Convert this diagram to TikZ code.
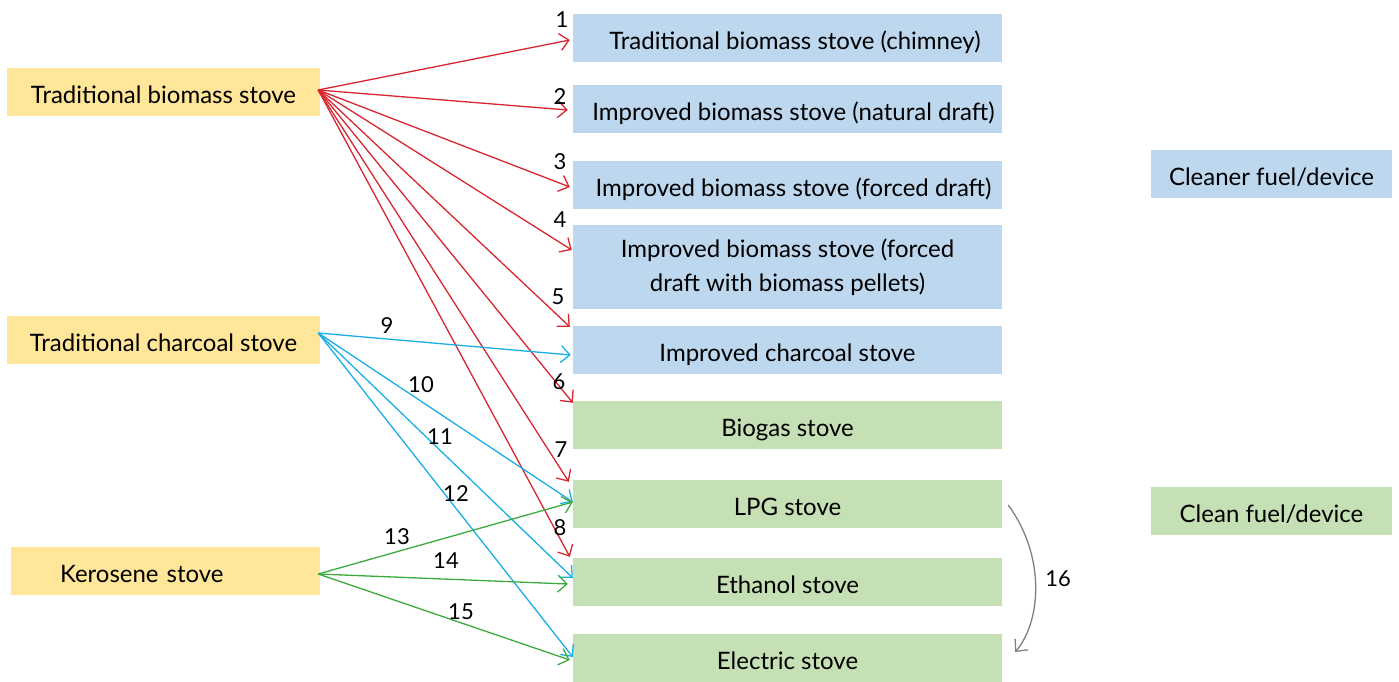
\documentclass[tikz,border=0pt]{standalone}
\usepackage{fontspec}
\setmainfont{Lato}
\usetikzlibrary{arrows.meta,calc}
\definecolor{yfill}{HTML}{FFE699}
\definecolor{bfill}{HTML}{BDD7EE}
\definecolor{gfill}{HTML}{C5E0B4}
\definecolor{ared}{HTML}{D7262F}
\definecolor{ablue}{HTML}{1AAEE6}
\definecolor{agreen}{HTML}{3DAA3D}
\definecolor{agray}{HTML}{808080}
\tikzset{
  base/.style={rectangle, inner sep=0pt, font=\fontsize{24}{34}\selectfont, text=black, minimum height=48pt},
  box/.style={base, text height=23pt, text depth=0pt},
  ybox/.style={box, fill=yfill, minimum width=313pt},
  bbox/.style={box, fill=bfill, minimum width=429pt},
  tallbox/.style={base, fill=bfill, minimum width=429pt, minimum height=84pt, align=center},
  gbox/.style={box, fill=gfill, minimum width=429pt},
  lbox/.style={box, minimum width=241pt},
  num/.style={font=\fontsize{22}{26}\selectfont, inner sep=0pt},
  arr/.style={line width=1.3pt, -{Straight Barb[length=9pt,width=17pt,line width=1.3pt]}},
  red arr/.style={arr, draw=ared},
  blue arr/.style={arr, draw=ablue},
  green arr/.style={arr, draw=agreen},
}
\begin{document}
\begin{tikzpicture}[x=1pt,y=-1pt]
\useasboundingbox (0,0) rectangle (1399,682);
% left boxes
\node[ybox] (tb) at (163.5,92) {Traditional biomass stove};
\node[ybox] (tc) at (163.5,340) {Traditional charcoal stove};
\node[ybox, minimum width=309pt, text width=211pt, align=left] (ks) at (165.5,571) {Kerosene stove};
% right boxes
\node[bbox] (b1) at (787.5,38) {\hspace{15pt}Traditional biomass stove (chimney)};
\node[bbox] (b2) at (787.5,109) {\hspace{12pt}Improved biomass stove (natural draft)};
\node[bbox] (b3) at (787.5,185) {\hspace{12pt}Improved biomass stove (forced draft)};
\node[tallbox] (b4) at (787.5,267) {Improved biomass stove (forced\\draft with biomass pellets)};
\node[bbox] (b5) at (787.5,350) {Improved charcoal stove};
\node[gbox] (b6) at (787.5,425) {Biogas stove};
\node[gbox] (b7) at (787.5,504) {LPG stove};
\node[gbox] (b8) at (787.5,582) {Ethanol stove};
\node[gbox] (b9) at (787.5,658) {Electric stove};
% legend
\node[lbox, fill=bfill] (lg1) at (1271.5,174) {Cleaner fuel/device};
\node[lbox, fill=gfill] (lg2) at (1271.5,511) {Clean fuel/device};
% sources
\coordinate (sb) at ($(tb.east)+(-2,-2)$);
\coordinate (sc) at ($(tc.east)+(-2,-7)$);
\coordinate (sk) at ($(ks.east)+(-2,3)$);
% biomass arrows
\draw[red arr] (sb) -- ($(b1.west)+(-3,2)$);
\draw[red arr] (sb) -- ($(b2.west)+(-5,1)$);
\draw[red arr] (sb) -- ($(b3.west)+(-3,2)$);
\draw[red arr] (sb) -- ($(b4.west)+(-1,-17)$);
\draw[red arr] (sb) -- ($(b5.north west)+(-3,1)$);
\draw[red arr] (sb) -- ($(b6.north west)+(0,2)$);
\draw[red arr] (sb) -- ($(b7.north west)+(-4,2)$);
\draw[red arr] (sb) -- ($(b8.north west)+(-3,-1)$);
% charcoal arrows
\draw[blue arr] (sc) -- ($(b5.west)+(-2,5)$);
\draw[blue arr] (sc) -- ($(b7.west)+(0,-2)$);
\draw[blue arr] (sc) -- ($(b8.west)+(0,-4)$);
\draw[blue arr] (sc) -- ($(b9.west)+(0,-1)$);
% kerosene arrows
\draw[green arr] (sk) -- ($(b7.west)+(0,-2)$);
\draw[green arr] (sk) -- ($(b8.west)+(-5,2)$);
\draw[green arr] (sk) -- ($(b9.west)+(-3,2)$);
% transition 16
\draw[line width=1.3pt, draw=agray, -{Straight Barb[length=9pt,width=17pt,line width=1.3pt]}]
  ($(b7.east)+(6,1)$) .. controls (1045,555) and (1042,620) .. ($(b9.east)+(13,-6)$);
% numbers
\node[num] (n1) at (562,20) {1};
\node[num] (n2) at (560,97) {2};
\node[num] (n3) at (560,162) {3};
\node[num] (n4) at (560,220) {4};
\node[num] (n5) at (558,297) {5};
\node[num] (n6) at (559,382) {6};
\node[num] (n7) at (561,450) {7};
\node[num] (n8) at (560,528) {8};
\node[num] (n9) at (387,326) {9};
\node[num] (n10) at (421,385) {10};
\node[num] (n11) at (440,437) {11};
\node[num] (n12) at (456,494) {12};
\node[num] (n13) at (397,537) {13};
\node[num] (n14) at (446,561) {14};
\node[num] (n15) at (461,612) {15};
\node[num] (n16) at (1058,579) {16};
\end{tikzpicture}
\end{document}
